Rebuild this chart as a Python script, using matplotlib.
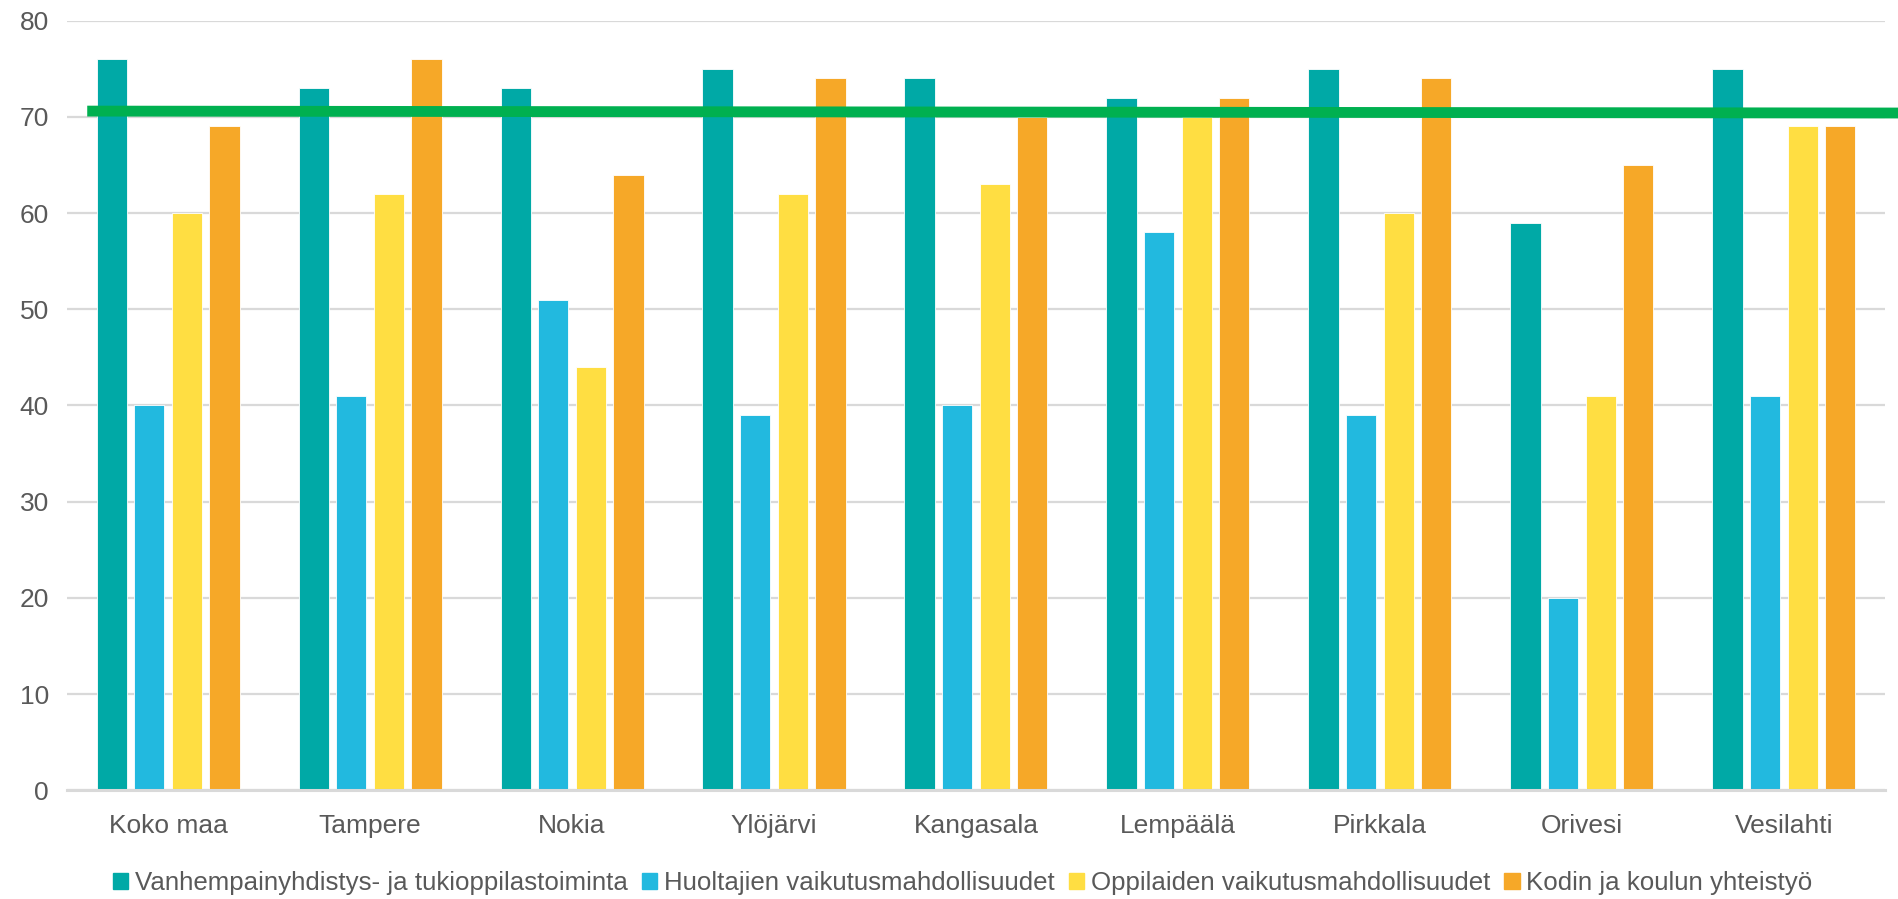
import matplotlib.pyplot as plt
import matplotlib.patches as patches
import numpy as np

# 分类（地区）
categories = ['Koko maa', 'Tampere', 'Nokia', 'Ylöjärvi', 'Kangasala',
              'Lempäälä', 'Pirkkala', 'Orivesi', 'Vesilahti']
# 各系列数值
vanhempainyhdistys = [76, 73, 73, 75, 74, 72, 75, 59, 75]
huoltajien = [40, 41, 51, 39, 40, 58, 39, 20, 41]
oppilaiden = [60, 62, 44, 62, 63, 70, 60, 41, 69]
kodin = [69, 76, 64, 74, 70, 72, 74, 65, 69]
series_names = ['Vanhempainyhdistys- ja tukioppilastoiminta',
                'Huoltajien vaikutusmahdollisuudet',
                'Oppilaiden vaikutusmahdollisuudet',
                'Kodin ja koulun yhteistyö']
# 绿色参考线（左端、右端数值）
ref_line = [70.6, 70.4]
y_ticks = [0, 10, 20, 30, 40, 50, 60, 70, 80]

colors = ['#00A9A6', '#22B9DF', '#FFDE42', '#F6A828']
grid_color = '#D9D9D9'
text_color = '#595959'

plt.rcParams['font.family'] = ['Liberation Sans', 'DejaVu Sans']

fig = plt.figure(figsize=(18.99, 8.99), dpi=100)
ax = fig.add_axes([0.0353, 0.121, 0.9573, 0.856])

x = np.arange(len(categories))
pitch = 0.186
width = 0.15
all_series = [vanhempainyhdistys, huoltajien, oppilaiden, kodin]
for i, (vals, c) in enumerate(zip(all_series, colors)):
    ax.bar(x + (i - 1.5) * pitch, vals, width=width, color=c,
           edgecolor='white', linewidth=0.6, zorder=2, label=series_names[i])

# 参考线
ax.plot([-0.40, 8.57], ref_line, color='#00B050', linewidth=7.8,
        solid_capstyle='butt', zorder=3, clip_on=False)

ax.set_xlim(-0.5, 8.5)
ax.set_ylim(0, 80)
ax.set_yticks(y_ticks)
ax.set_xticks(x)
ax.set_xticklabels(categories)
ax.yaxis.grid(True, color=grid_color, linewidth=1.6, zorder=0)
ax.set_axisbelow(True)
for s in ['top', 'right', 'left']:
    ax.spines[s].set_visible(False)
ax.spines['bottom'].set_color(grid_color)
ax.spines['bottom'].set_linewidth(2.2)
ax.tick_params(axis='y', length=0, labelcolor=text_color, labelsize=19, pad=13)
ax.tick_params(axis='x', length=0, labelcolor=text_color, labelsize=19, pad=17)

handles = [patches.Rectangle((0, 0), 1, 1, color=c) for c in colors]
fig.legend(handles, series_names, loc='center', bbox_to_anchor=(0.507, 0.018),
           ncol=4, frameon=False, fontsize=18.6, handlelength=0.6,
           handleheight=0.6, handletextpad=0.25, columnspacing=0.55,
           labelcolor=text_color)

plt.savefig('out.png', dpi=100)
